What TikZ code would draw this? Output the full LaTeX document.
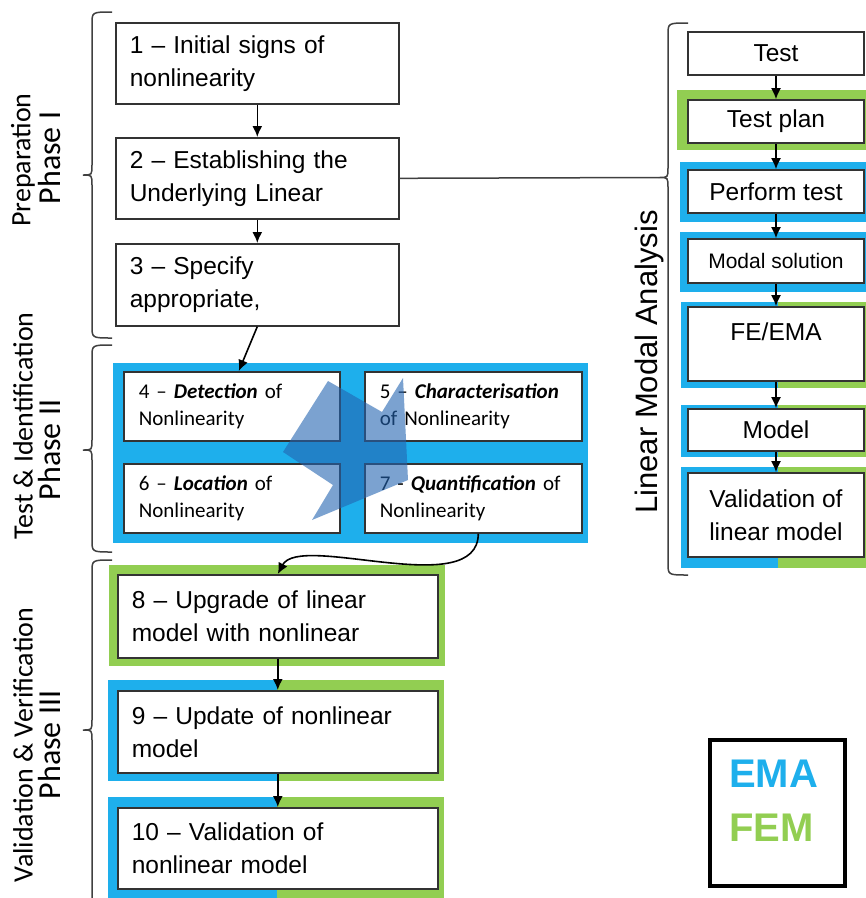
\documentclass[tikz,border=0pt]{standalone}
\usepackage{fontspec}
\setmainfont{Liberation Sans}
\newfontfamily\phasefont{Carlito}
\usetikzlibrary{arrows.meta}

\definecolor{emablue}{RGB}{30,175,236}
\definecolor{femgreen}{RGB}{146,206,82}
\definecolor{crossblue}{RGB}{35,100,177}

\tikzset{
    stage/.style={draw=black!80, line width=1.6pt, fill=white, anchor=north west,
        inner xsep=14pt, inner ysep=0pt, align=left,
        font=\fontsize{24.5}{33}\selectfont},
    substage/.style={stage, inner xsep=15pt, font=\phasefont\fontsize{21}{27}\selectfont},
    lmabox/.style={draw=black!80, line width=1.6pt, fill=white, inner sep=0pt,
        minimum width=176pt, align=center, font=\fontsize{24.5}{33}\selectfont},
    flow/.style={-{Latex[length=11pt,width=10pt]}, line width=1.6pt},
    brace/.style={line width=1.5pt, draw=black!75},
    phaselabel/.style={rotate=90, font=\phasefont\fontsize{28}{30}\selectfont},
    phasenumber/.style={rotate=90, font=\phasefont\fontsize{32}{34}\selectfont},
}

\begin{document}
\begin{tikzpicture}[x=1pt,y=-1pt]
    \useasboundingbox (0,0) rectangle (866,898);

    % phase I
    \node[stage, minimum width=283pt, minimum height=81pt, text width=255pt] (initial) at (115,22) {1 – Initial signs of\\nonlinearity};
    \node[stage, minimum width=283pt, minimum height=81pt, text width=255pt] (underlying) at (115,137) {2 – Establishing the\\Underlying Linear};
    \node[stage, minimum width=283pt, minimum height=82pt, text width=255pt] (specify) at (115,243) {3 – Specify\\appropriate,};

    % phase II
    \fill[emablue] (113,363) rectangle (588,543);
    \node[substage, minimum width=216pt, minimum height=69pt, text width=186pt] (detection) at (123,371) {4 – \textbf{\textit{Detection}} of\\Nonlinearity};
    \node[substage, minimum width=217pt, minimum height=69pt, text width=187pt] (characterisation) at (364,371) {5 – \textbf{\textit{Characterisation}}\\of Nonlinearity};
    \node[substage, minimum width=216pt, minimum height=69pt, text width=186pt] (location) at (123,463) {6 – \textbf{\textit{Location}} of\\Nonlinearity};
    \node[substage, minimum width=217pt, minimum height=69pt, text width=187pt] (quantification) at (364,463) {7 - \textbf{\textit{Quantification}} of\\Nonlinearity};
    \fill[crossblue, opacity=0.6] (328,381) -- (382,412) -- (403,378) -- (408,480) -- (312,520) -- (333,485) -- (283,452) -- cycle;

    % phase III
    \fill[femgreen] (109,565) rectangle (445,666);
    \fill[emablue] (108,680) rectangle (277,781);
    \fill[femgreen] (277,680) rectangle (444,781);
    \fill[emablue] (108,797) rectangle (277,910);
    \fill[femgreen] (277,797) rectangle (444,910);
    \node[stage, minimum width=320pt, minimum height=83pt, text width=292pt] (upgrade) at (117,574) {8 – Upgrade of linear\\model with nonlinear};
    \node[stage, minimum width=320pt, minimum height=82pt, text width=292pt] (update) at (117,690) {9 – Update of nonlinear\\model};
    \node[stage, minimum width=320pt, minimum height=81pt, text width=292pt] (validation) at (117,807) {10 – Validation of\\nonlinear model};

    % linear modal analysis
    \fill[femgreen] (677,90) rectangle (872,150);
    \fill[emablue] (680,162) rectangle (872,222);
    \fill[emablue] (680,232) rectangle (872,292);
    \foreach \ytop/\ybot in {302/388, 405/457, 467/568} {
        \fill[emablue] (681,\ytop) rectangle (778,\ybot);
        \fill[femgreen] (778,\ytop) rectangle (872,\ybot);
    }
    \node[lmabox, minimum height=43pt] (test) at (776,53.5) {Test};
    \node[lmabox, minimum height=43pt] (testplan) at (776,121.5) {Test plan};
    \node[lmabox, minimum height=43pt] (perform) at (776,191.5) {Perform test};
    \node[lmabox, minimum height=44pt, font=\fontsize{21}{28}\selectfont] (modal) at (776,261) {Modal solution};
    \node[lmabox, minimum height=74pt, text depth=24pt] (feema) at (776,344) {FE/EMA};
    \node[lmabox, minimum height=42pt] (model) at (776,430) {Model};
    \node[lmabox, minimum height=84pt] (linval) at (776,515) {Validation of\\linear model};

    % connectors
    \draw[flow] (initial) -- (underlying);
    \draw[flow] (underlying) -- (specify);
    \draw[flow] (specify.south) -- ([xshift=7pt]detection.north);
    \draw[flow] ([xshift=5pt]quantification.south) .. controls (478,602) and (300,532) .. (upgrade.north);
    \draw[flow] (upgrade) -- (update);
    \draw[flow] (update) -- (validation);
    \draw[flow] (test) -- (testplan);
    \draw[flow] (testplan) -- (perform);
    \draw[flow] (perform) -- (modal);
    \draw[flow] (modal) -- (feema);
    \draw[flow] (feema) -- (model);
    \draw[flow] (model) -- (linval);
    \coordinate (lmatip) at (659,177.5);
    \draw[brace] (underlying.east) -- (lmatip);

    % braces
    \foreach \xe/\ytop/\ytip/\ybot in {112/12/175/338, 112/345/450/552, 112/560/730/915, 688/23/177.5/575} {
        \draw[brace] (\xe,\ytop) .. controls (\xe-20,\ytop) .. (\xe-20,\ytop+12) -- (\xe-20,\ytip-10)
            .. controls (\xe-20,\ytip) .. (\xe-29,\ytip) .. controls (\xe-20,\ytip) .. (\xe-20,\ytip+10)
            -- (\xe-20,\ybot-12) .. controls (\xe-20,\ybot) .. (\xe,\ybot);
    }

    % labels
    \node[phaselabel] (prep) at (23,160) {Preparation};
    \node[phasenumber] (phaseone) at (50,158) {Phase I};
    \node[phaselabel] (testid) at (23,426) {Test \& Identification};
    \node[phasenumber] (phasetwo) at (50,450) {Phase II};
    \node[phaselabel] (valver) at (23,745) {Validation \& Verification};
    \node[phasenumber] (phasethree) at (50,745) {Phase III};
    \node[rotate=90, font=\fontsize{31}{31}\selectfont] (lma) at (649,362) {Linear Modal Analysis};

    % legend
    \node[draw, line width=4pt, minimum width=135pt, minimum height=146pt, inner sep=0pt] (key) at (777.5,813) {};
    \node[anchor=west, align=left, inner sep=0pt, font=\bfseries\fontsize{40}{54}\selectfont] (keytext) at (729,801) {\textcolor{emablue}{EMA}\\\textcolor{femgreen}{FEM}};
\end{tikzpicture}
\end{document}
